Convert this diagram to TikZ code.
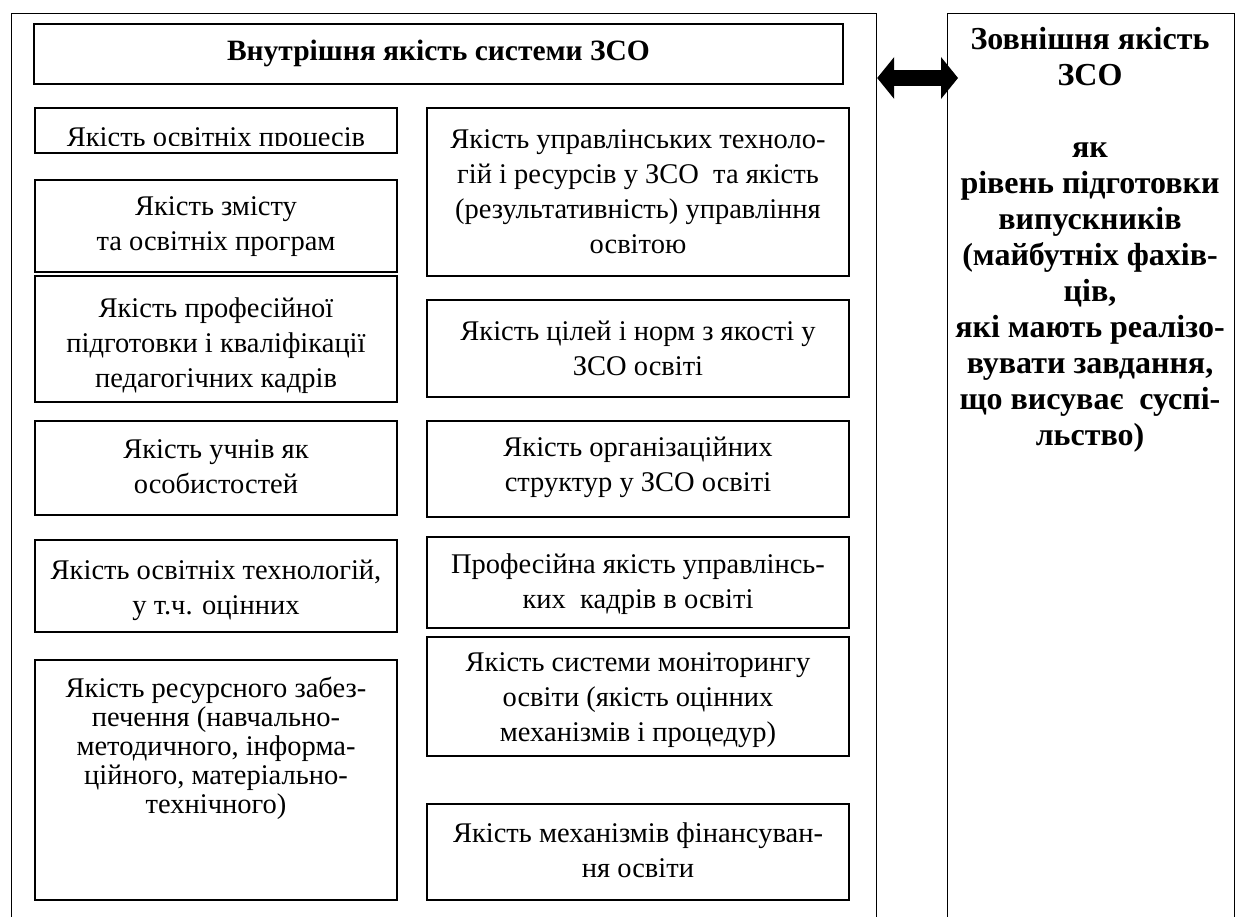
\documentclass[tikz,border=0pt]{standalone}
\usepackage{fontspec}
\setmainfont{Liberation Serif}
\usetikzlibrary{arrows.meta,calc}

\tikzset{
    frame/.style={draw, line width=1.2pt, inner sep=0pt, anchor=north west},
    cell/.style={line width=1.6pt},
    txt/.style={align=center, inner sep=0pt, font=\fontsize{28.5}{35}\selectfont},
    bigarrow/.style={line width=16pt,
        {Triangle[length=17pt,width=42pt,line width=0pt]}-{Triangle[length=17pt,width=42pt,line width=0pt]}},
}

\begin{document}
\begin{tikzpicture}[x=1pt, y=-1pt]

    \useasboundingbox (0,0) rectangle (1236,917);

    % Two frames, open at the lower edge.
    \node[frame, minimum width=865pt, minimum height=960pt] (inner) at (11,13) {};
    \node[frame, minimum width=287pt, minimum height=960pt] (outer) at (947,13) {};

    % Heading.
    \draw[cell] (34,24) rectangle (843,84);
    \node[txt, font=\fontsize{29.5}{35}\selectfont\bfseries] (title) at (438.5,53) {Внутрішня якість системи ЗСО};

    % First left box, text cut off.
    \draw[cell] (35,108) rectangle (397,153);
    \begin{scope}
        \clip (35,108) rectangle (397,146);
        \node[txt, anchor=base] (l1) at (216,147) {Якість освітніх процесів};
    \end{scope}

    % Left column.
    \foreach \nm/\ya/\yb/\yt/\txt in {
        l2/180/272/227/{Якість змісту\\та освітніх програм},
        l3/276/402/346/{Якість професійної\\підготовки і кваліфікації\\педагогічних кадрів},
        l4/421/515/467/{Якість учнів як\\особистостей},
        l5/540/632/590/{Якість освітніх технологій,\\у т.ч. оцінних}}
    {
        \draw[cell] (35,\ya) rectangle (397,\yb);
        \node[txt] (\nm) at (216,\yt) {\txt};
    }

    \draw[cell] (35,660) rectangle (397,900);
    \node[txt, font=\fontsize{28.5}{29}\selectfont] (l6) at (216,748)
        {Якість ресурсного забез-\\печення (навчально-\\методичного, інформа-\\ційного, матеріально-\\технічного)};

    % Right column.
    \foreach \nm/\ya/\yb/\yt/\txt in {
        r1/108/276/192/{Якість управлінських техноло-\\гій і ресурсів у ЗСО\ \ та якість\\(результативність) управління\\освітою},
        r2/300/397/348/{Якість цілей і норм з якості у\\ЗСО освіті},
        r3/421/517/467/{Якість організаційних\\структур у ЗСО освіті},
        r4/537/628/584/{Професійна якість управлінсь-\\ких\ \ кадрів в освіті},
        r5/637/756/700/{Якість системи моніторингу\\освіти (якість оцінних\\механізмів і процедур)},
        r6/804/900/850/{Якість механізмів фінансуван-\\ня освіти}}
    {
        \draw[cell] (427,\ya) rectangle (849,\yb);
        \node[txt] (\nm) at (638,\yt) {\txt};
    }

    % Outer quality.
    \node[txt, font=\fontsize{32}{36}\selectfont\bfseries] (ext) at (1090,240)
        {Зовнішня якість\\ЗСО\\[36pt]як\\рівень підготовки\\випускників\\(майбутніх фахів-\\ців,\\які мають реалізо-\\вувати завдання,\\що висуває\ \ суспі-\\льство)};

    \draw[bigarrow] ($(inner.north east)+(0,65)$) -- ($(outer.north west)+(11,65)$);

\end{tikzpicture}
\end{document}
